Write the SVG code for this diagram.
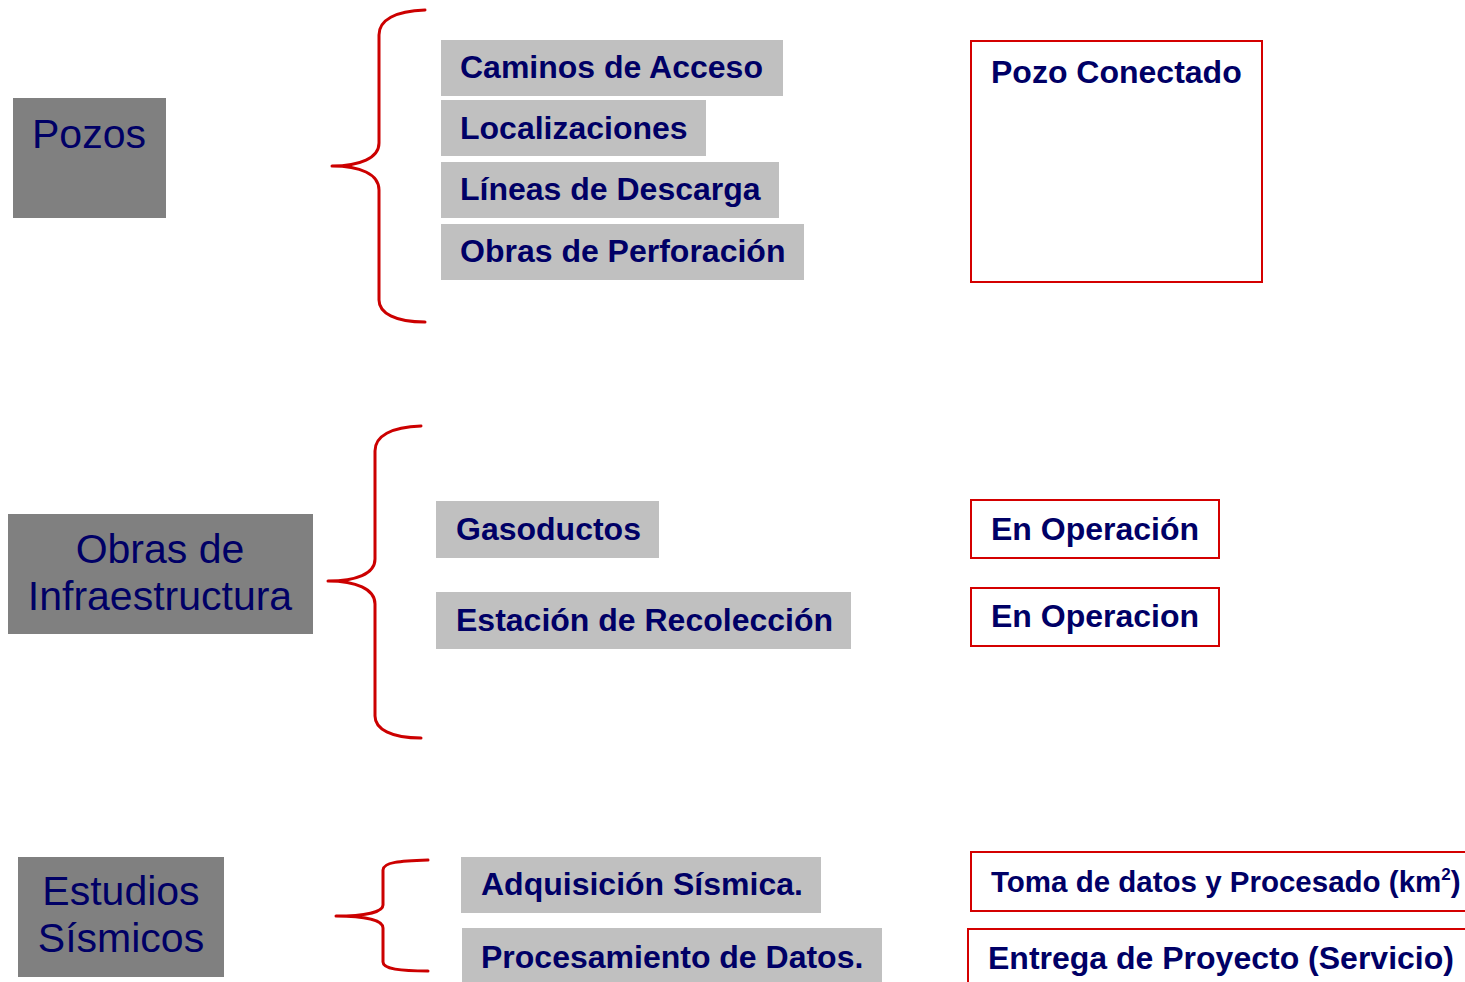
<svg xmlns="http://www.w3.org/2000/svg" width="1465" height="982" viewBox="0 0 1465 982">
<style>
.cat{fill:#808080}
.item{fill:#C0C0C0}
.res{fill:#FFFFFF;stroke:#D40000;stroke-width:2}
.brace{fill:none;stroke:#CC0000;stroke-width:3;stroke-linecap:round;stroke-linejoin:round}
text{font-family:"Liberation Sans",Arial,sans-serif;fill:#000066}
.ct{font-size:41px;text-anchor:middle}
.bt{font-size:32px;font-weight:bold}
.st{font-size:29.5px;font-weight:bold}
</style>
<rect width="1465" height="982" fill="#FFFFFF"/>
<g id="connectors">
<path class="brace" d="M425,10 C395,11 379,20 379,35 L379,143 C379,158 360,166 332,166 C360,166 379,174 379,190 L379,300 C379,313 395,322 425,322"/>
<path class="brace" d="M421,426 C391,427 375,436 375,451 L375,559 C375,574 356,581 328,581 C356,581 375,589 375,604 L375,716 C375,729 391,738 421,738"/>
<path class="brace" d="M428,860 C400,861 383,862 383,870 L383,905 C383,912 365,916 336,916 C365,916 383,920 383,928 L383,962 C383,969 400,971 428,971"/>
</g>
<g id="pozos"><rect class="cat" x="13" y="98" width="153" height="120"/><text class="ct" x="89" y="148">Pozos</text></g>
<g id="caminos"><rect class="item" x="441" y="40" width="342" height="56"/><text class="bt" x="460" y="78">Caminos de Acceso</text></g>
<g id="localizaciones"><rect class="item" x="441" y="100" width="265" height="56"/><text class="bt" x="460" y="139">Localizaciones</text></g>
<g id="lineas"><rect class="item" x="441" y="162" width="338" height="56"/><text class="bt" x="460" y="200">Líneas de Descarga</text></g>
<g id="obras-perf"><rect class="item" x="441" y="224" width="363" height="56"/><text class="bt" x="460" y="262">Obras de Perforación</text></g>
<g id="pozo-conectado"><rect class="res" x="971" y="41" width="291" height="241"/><text class="bt" x="991" y="83">Pozo Conectado</text></g>
<g id="infra"><rect class="cat" x="8" y="514" width="305" height="120"/><text class="ct" x="160" y="563">Obras de</text><text class="ct" x="160" y="610">Infraestructura</text></g>
<g id="gasoductos"><rect class="item" x="436" y="501" width="223" height="57"/><text class="bt" x="456" y="540">Gasoductos</text></g>
<g id="estacion"><rect class="item" x="436" y="592" width="415" height="57"/><text class="bt" x="456" y="631">Estación de Recolección</text></g>
<g id="en-op-1"><rect class="res" x="971" y="500" width="248" height="58"/><text class="bt" x="991" y="540">En Operación</text></g>
<g id="en-op-2"><rect class="res" x="971" y="588" width="248" height="58"/><text class="bt" x="991" y="627">En Operacion</text></g>
<g id="sismicos"><rect class="cat" x="18" y="857" width="206" height="120"/><text class="ct" x="121" y="905">Estudios</text><text class="ct" x="121" y="952">Sísmicos</text></g>
<g id="adquisicion"><rect class="item" x="461" y="857" width="360" height="56"/><text class="bt" x="481" y="895">Adquisición Sísmica.</text></g>
<g id="procesamiento"><rect class="item" x="462" y="928" width="420" height="56"/><text class="bt" x="481" y="968">Procesamiento de Datos.</text></g>
<g id="toma"><rect class="res" x="971" y="852" width="500" height="59"/><text class="st" x="991" y="892">Toma de datos y Procesado (km<tspan font-size="17" dy="-12">2</tspan><tspan dy="12">)</tspan></text></g>
<g id="entrega"><rect class="res" x="968" y="929" width="503" height="60"/><text class="bt" x="988" y="969">Entrega de Proyecto (Servicio)</text></g>
</svg>
